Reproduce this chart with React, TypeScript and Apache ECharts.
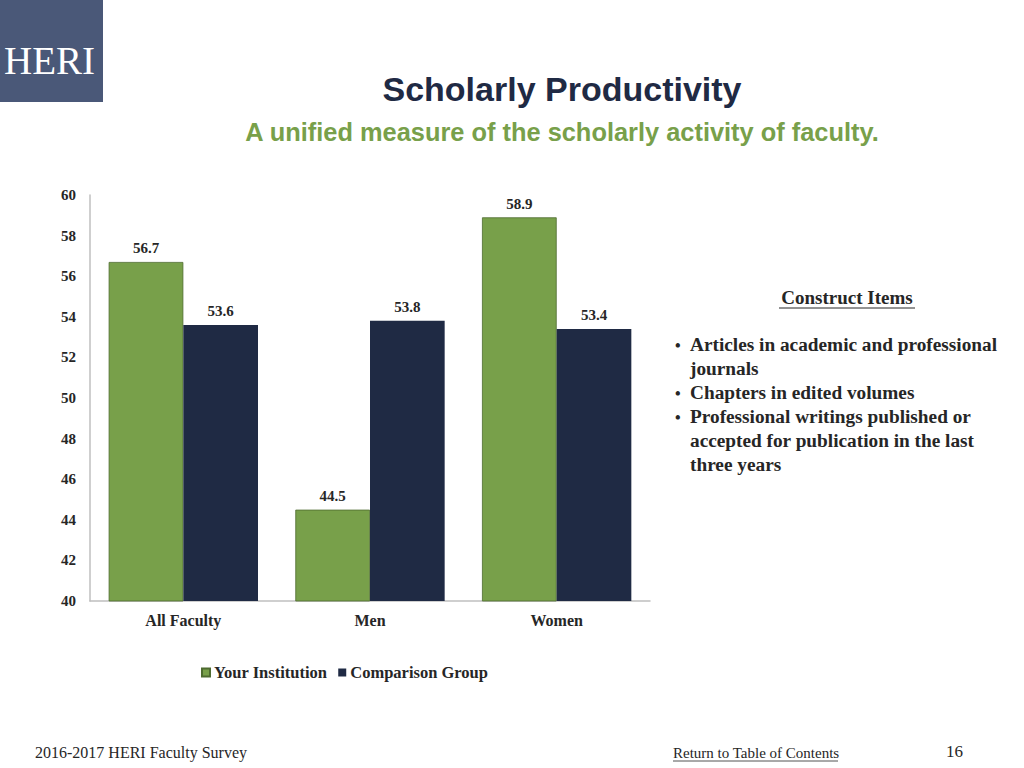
import React, { useEffect, useRef } from "react";
import * as echarts from "echarts";

const categories = ["All Faculty", "Men", "Women"];
const yourInstitution = [56.7, 44.5, 58.9];
const comparisonGroup = [53.6, 53.8, 53.4];
const seriesNames = ["Your Institution", "Comparison Group"];
const constructItems = [
  "Articles in academic and professional",
  "journals",
  "Chapters in edited volumes",
  "Professional writings published or",
  "accepted for publication in the last",
  "three years",
];
const bulletStarts = [true, false, true, true, false, false];

const GREEN = "#78A04A";
const NAVY = "#1F2A44";
const TEXT = "#262626";
const SERIF = "'Liberation Serif', 'DejaVu Serif', serif";
const SANS = "'Liberation Sans', Arial, sans-serif";

export default function App() {
  const ref = useRef<HTMLDivElement>(null);
  useEffect(() => {
    document.body.style.margin = "0";
    const chart = echarts.init(ref.current!, null, { renderer: "svg" });
    const bulletGraphics: any[] = [];
    constructItems.forEach((t, i) => {
      const y = 347 + i * 24;
      if (bulletStarts[i]) {
        bulletGraphics.push({
          type: "text",
          x: 675,
          y: y - 10,
          style: { text: "•", font: `bold 16px ${SERIF}`, fill: TEXT },
        });
      }
      bulletGraphics.push({
        type: "text",
        x: 690,
        y: y - 12,
        style: { text: t, font: `bold 19.3px ${SERIF}`, fill: TEXT },
      });
    });
    const labelStyle = {
      show: true,
      position: "top",
      distance: 6,
      fontFamily: SERIF,
      fontWeight: "bold",
      fontSize: 15,
      color: TEXT,
    };
    chart.setOption({
      animation: false,
      grid: { left: 90, top: 195, right: 374, bottom: 167, containLabel: false },
      legend: {
        data: seriesNames,
        left: 196,
        top: 659,
        icon: "rect",
        itemWidth: 8,
        itemHeight: 8,
        itemGap: 11,
        textStyle: { fontFamily: SERIF, fontWeight: "bold", fontSize: 16.5, color: TEXT, padding: [0, 0, 0, -1] },
      },
      xAxis: {
        type: "category",
        data: categories,
        axisLine: { lineStyle: { color: "#BFBFBF", width: 1.5 } },
        axisTick: { show: false },
        axisLabel: { fontFamily: SERIF, fontWeight: "bold", fontSize: 16, color: TEXT, margin: 11 },
      },
      yAxis: {
        type: "value",
        min: 40,
        max: 60,
        interval: 2,
        axisLine: { show: true, lineStyle: { color: "#BFBFBF", width: 1.5 } },
        axisTick: { show: false },
        splitLine: { show: false },
        axisLabel: { fontFamily: SERIF, fontWeight: "bold", fontSize: 15, color: TEXT, margin: 14 },
      },
      series: [
        {
          name: seriesNames[0],
          type: "bar",
          data: yourInstitution,
          barGap: "0%",
          barCategoryGap: "20%",
          itemStyle: { color: GREEN, borderColor: "#4E6B30", borderWidth: 0.8 },
          label: labelStyle,
        },
        {
          name: seriesNames[1],
          type: "bar",
          data: comparisonGroup,
          itemStyle: { color: NAVY },
          label: labelStyle,
        },
      ],
      graphic: [
        { type: "rect", left: 0, top: 0, shape: { width: 103, height: 102 }, style: { fill: "#4A5878" } },
        {
          type: "text",
          x: 4,
          y: 41,
          style: { text: "HERI", font: `39px ${SERIF}`, fill: "#FFFFFF" },
        },
        {
          type: "text",
          x: 562,
          y: 72,
          style: { text: "Scholarly Productivity", font: `bold 34px ${SANS}`, fill: NAVY, textAlign: "center" },
        },
        {
          type: "text",
          x: 562,
          y: 119,
          style: {
            text: "A unified measure of the scholarly activity of faculty.",
            font: `bold 25.4px ${SANS}`,
            fill: GREEN,
            textAlign: "center",
          },
        },
        {
          type: "text",
          x: 847,
          y: 288,
          style: { text: "Construct Items", font: `bold 19px ${SERIF}`, fill: TEXT, textAlign: "center" },
        },
        { type: "line", shape: { x1: 779, y1: 308, x2: 915, y2: 308 }, style: { stroke: TEXT, lineWidth: 1 } },
        ...bulletGraphics,
        {
          type: "text",
          x: 35,
          y: 744,
          style: { text: "2016-2017 HERI Faculty Survey", font: `16px ${SERIF}`, fill: TEXT },
        },
        {
          type: "text",
          x: 673,
          y: 745,
          style: { text: "Return to Table of Contents", font: `15px ${SERIF}`, fill: TEXT },
        },
        { type: "line", shape: { x1: 673, y1: 761, x2: 838, y2: 761 }, style: { stroke: TEXT, lineWidth: 0.8 } },
        {
          type: "text",
          x: 946,
          y: 743,
          style: { text: "16", font: `17px ${SERIF}`, fill: TEXT },
        },
      ],
    });
    return () => chart.dispose();
  }, []);
  return <div ref={ref} style={{ width: 1024, height: 768 }} />;
}
